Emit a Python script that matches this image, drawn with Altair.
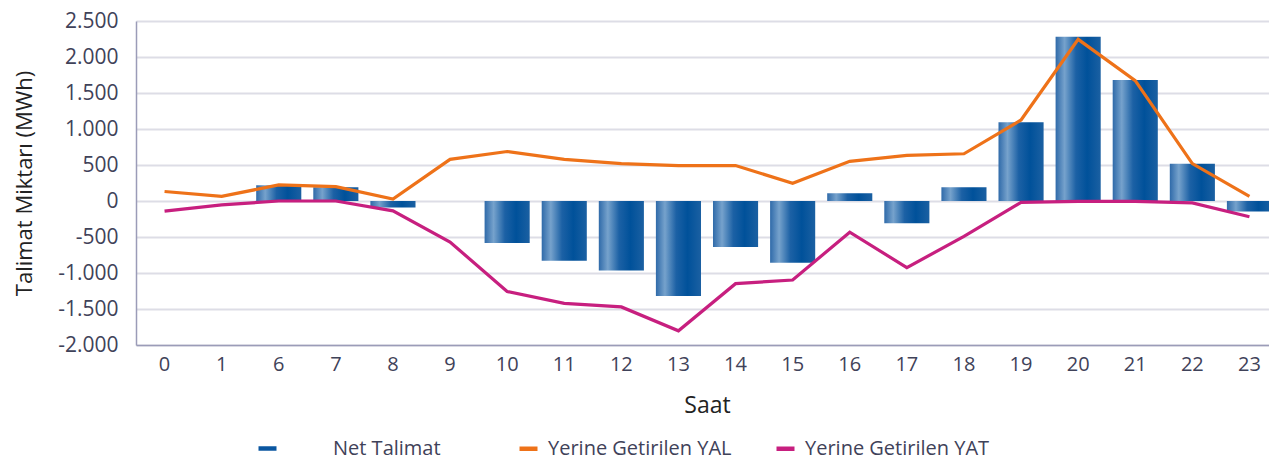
import altair as alt
import pandas as pd

hours = ["0", "1", "6", "7", "8", "9", "10", "11", "12", "13", "14", "15",
         "16", "17", "18", "19", "20", "21", "22", "23"]
net_talimat = [0, 0, 220, 190, -90, 0, -583, -829, -966, -1321, -638, -856,
               109, -310, 191, 1093, 2281, 1680, 519, -146]
yal = [132, 64, 223, 200, 27, 578, 687, 578, 519, 492, 492, 246,
       551, 633, 656, 1125, 2245, 1671, 519, 64]
yat = [-141, -55, 0, 0, -137, -570, -1257, -1421, -1471, -1803, -1148, -1097,
       -433, -925, -492, -18, -5, -5, -27, -219]

bar_name = "Net Talimat"
line_names = ["Yerine Getirilen YAL", "Yerine Getirilen YAT"]
bar_color = "#0a56a0"
line_colors = ["#ee7219", "#c71f7f"]

FONT = "Open Sans"
TXT = "#3f4259"

bar_df = pd.DataFrame({"Saat": hours, "Net": net_talimat, "Seri": [bar_name] * len(hours)})
line_df = pd.DataFrame({
    "Saat": hours * 2,
    "Deger": yal + yat,
    "Seri": [line_names[0]] * len(hours) + [line_names[1]] * len(hours),
})

x_scale = alt.Scale(paddingInner=0.21, paddingOuter=0.105)
x_axis = alt.Axis(labelAngle=0, labelFontSize=20, labelColor=TXT, labelFont=FONT,
                  labelPadding=9, titleFontSize=23, titleColor="#222222",
                  titleFont=FONT, titleFontWeight="normal", titlePadding=20,
                  ticks=False, domainColor="#9b9cb8", domainWidth=1.5, grid=False)

y_scale = alt.Scale(domain=[-2000, 2500], nice=False)
y_axis = alt.Axis(
    values=list(range(-2000, 2501, 500)),
    labelExpr="(datum.value < 0 ? '-' : '') + replace(format(abs(datum.value), ','), ',', '.')",
    labelFontSize=21, labelColor=TXT, labelFont=FONT, labelPadding=18,
    labelOverlap=False,
    title="Talimat Miktarı (MWh)", titleFontSize=22, titleColor="#222222",
    titleFont=FONT, titleFontWeight="normal", titlePadding=21,
    ticks=False, domainColor="#9b9cb8", domainWidth=1.5,
    gridColor="#dddde6", gridWidth=1.8,
)

gradient = alt.Gradient(
    gradient="linear", x1=0, x2=1, y1=0, y2=0,
    stops=[
        alt.GradientStop(offset=0.0, color="#2f6aa9"),
        alt.GradientStop(offset=0.2, color="#76a2cc"),
        alt.GradientStop(offset=0.45, color="#1c61a5"),
        alt.GradientStop(offset=0.7, color="#00519a"),
        alt.GradientStop(offset=1.0, color="#1b60a2"),
    ],
)

x_enc = alt.X("Saat:N", sort=hours, title="Saat", scale=x_scale, axis=x_axis)

bars = alt.Chart(bar_df).mark_bar(color=gradient).encode(
    x=x_enc,
    y=alt.Y("Net:Q", scale=y_scale, axis=y_axis),
)

# invisible helper layer only to provide the "Net Talimat" legend entry
bar_legend = alt.Chart(bar_df).mark_point(opacity=0).encode(
    x=x_enc,
    y=alt.Y("Net:Q", scale=y_scale, axis=y_axis),
    stroke=alt.Stroke(
        "Seri:N",
        scale=alt.Scale(domain=[bar_name], range=[bar_color]),
        legend=alt.Legend(
            title=None, orient="none", direction="horizontal",
            legendX=120, legendY=416,
            symbolType="stroke", symbolSize=324, symbolStrokeWidth=4.5,
            symbolOpacity=1,
            labelFontSize=20, labelColor=TXT, labelFont=FONT,
            labelOffset=54, labelLimit=400,
        ),
    ),
)

lines = alt.Chart(line_df).mark_line(strokeWidth=3.2).encode(
    x=x_enc,
    y=alt.Y("Deger:Q", scale=y_scale, axis=y_axis),
    color=alt.Color(
        "Seri:N",
        scale=alt.Scale(domain=line_names, range=line_colors),
        legend=alt.Legend(
            title=None, orient="none", direction="horizontal",
            legendX=381, legendY=416, columns=2, gridAlign="all",
            symbolType="stroke", symbolSize=324, symbolStrokeWidth=4.5,
            labelFontSize=20, labelColor=TXT, labelFont=FONT,
            labelOffset=8, columnPadding=34, labelLimit=400,
        ),
    ),
)

chart = alt.layer(bars, lines, bar_legend).resolve_legend(
    color="independent", stroke="independent"
).properties(
    width=1142, height=324,
    autosize=alt.AutoSizeParams(type="none"),
    padding={"left": 128, "top": 13, "right": -9, "bottom": 130},
).configure_view(stroke=None)

chart.save("out.html", embed_options={"renderer": "svg", "actions": False})
